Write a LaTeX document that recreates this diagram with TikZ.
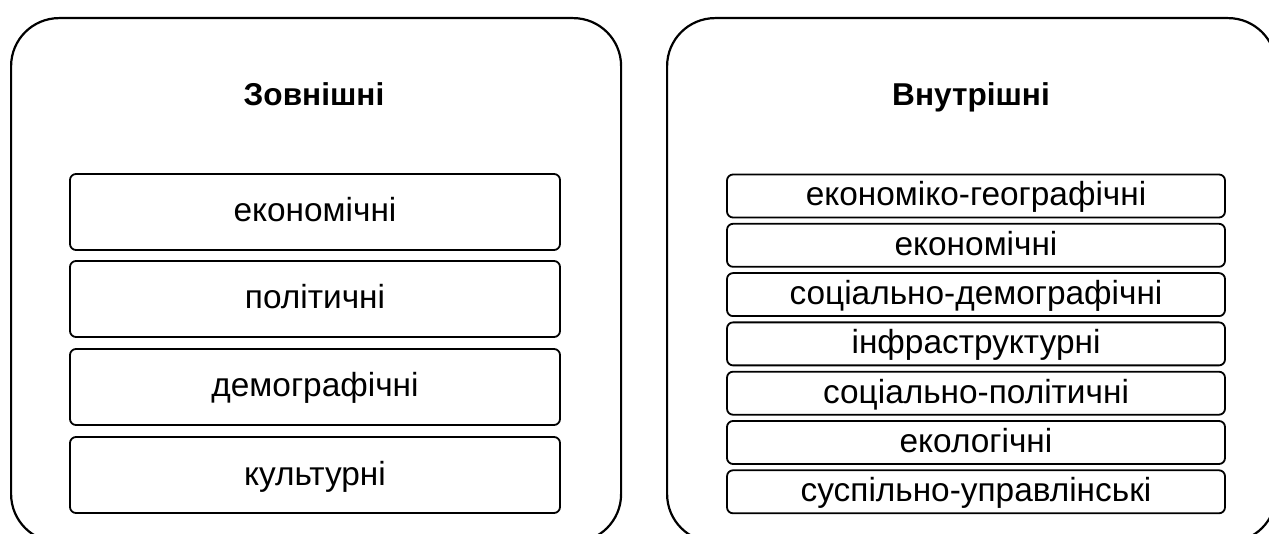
\documentclass[tikz,border=0pt]{standalone}
\usepackage{fontspec}
\setmainfont{Liberation Sans}
\begin{document}
\begin{tikzpicture}[x=1pt,y=-1pt,
  outer/.style={draw=black,line width=2.2pt,rounded corners=48pt,inner sep=0pt,anchor=north west},
  itembox/.style={draw=black,line width=1.8pt,rounded corners=6pt,inner sep=0pt,
    text height=24pt,text depth=4pt,font=\fontsize{33.4}{36}\selectfont},
  lbox/.style={itembox,minimum width=490pt,minimum height=76pt},
  rbox/.style={itembox,minimum width=498pt,minimum height=43pt},
  ttl/.style={anchor=base,inner sep=0pt,font=\fontsize{31.6}{36}\selectfont\bfseries}]
\useasboundingbox (0,0) rectangle (1269,534);
\clip (0,0) rectangle (1269,534);
% outer frames
\node[outer,minimum width=610pt,minimum height=524pt] (L) at (10,17) {};
\node[outer,minimum width=609pt,minimum height=524pt] (R) at (666,17) {};
% titles
\node[ttl] (Lt) at (314,106) {Зовнішні};
\node[ttl] (Rt) at (971,106) {Внутрішні};
% left items
\node[lbox] (l1) at (315,212) {економічні};
\node[lbox] (l2) at (315,299) {політичні};
\node[lbox] (l3) at (315,387) {демографічні};
\node[lbox] (l4) at (315,475) {культурні};
% right items
\node[rbox] (r1) at (976,196) {економіко-географічні};
\node[rbox] (r2) at (976,245.3) {економічні};
\node[rbox] (r3) at (976,294.6) {соціально-демографічні};
\node[rbox] (r4) at (976,343.9) {інфраструктурні};
\node[rbox] (r5) at (976,393.2) {соціально-політичні};
\node[rbox] (r6) at (976,442.5) {екологічні};
\node[rbox] (r7) at (976,491.8) {суспільно-управлінські};
\end{tikzpicture}
\end{document}
